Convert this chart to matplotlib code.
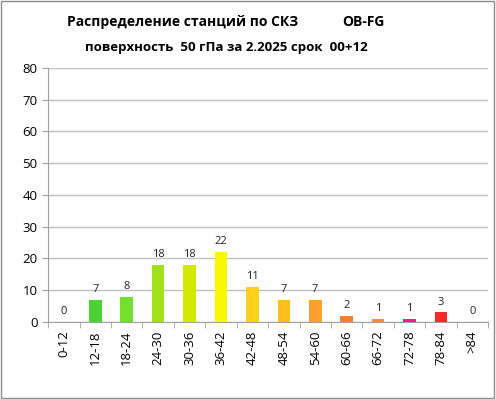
import numpy as np
import matplotlib
matplotlib.use("Agg")
import matplotlib.pyplot as plt
from matplotlib.patches import Rectangle

categories = ["0-12", "12-18", "18-24", "24-30", "30-36", "36-42", "42-48",
              "48-54", "54-60", "60-66", "66-72", "72-78", "78-84", ">84"]
counts = [0, 7, 8, 18, 18, 22, 11, 7, 7, 2, 1, 1, 3, 0]
colors = ["#4CD137", "#4CD137", "#72E02C", "#A3E01C", "#D3E800", "#F8F800",
          "#FFD01C", "#FFBE1C", "#FFA02C", "#FF7F30", "#FF8A40", "#FF1A8C",
          "#F42A2A", "#FF2A2A"]

plt.rcParams['font.family'] = ['Open Sans', 'DejaVu Sans']

fig = plt.figure(figsize=(4.96, 3.99), dpi=100)
ax = fig.add_axes([0.097, 0.193, 0.887, 0.637])

x = np.arange(len(categories))
bars = ax.bar(x, counts, width=0.4, color=colors, zorder=3)
for xi, v in zip(x, counts):
    ax.text(xi, v + 1.5, str(v), ha='center', va='bottom', fontsize=8, color='#222222')

ax.set_xlim(-0.5, len(categories) - 0.5)
ax.set_ylim(0, 80)
ax.set_yticks(np.arange(0, 81, 10))
ax.set_xticks(x)
ax.set_xticklabels(categories, rotation=90, fontsize=9.5)
ax.set_xticks(np.arange(-0.5, len(categories), 1), minor=True)
ax.tick_params(axis='x', which='major', length=0, pad=6)
ax.tick_params(axis='x', which='minor', length=4, color='#A0A0A0')
ax.tick_params(axis='y', labelsize=9.5, length=4, color='#A0A0A0')
ax.yaxis.grid(True, color='#C0C0C0', lw=1, zorder=0)
for s in ['top', 'right']:
    ax.spines[s].set_visible(False)
for s in ['left', 'bottom']:
    ax.spines[s].set_color('#A0A0A0')

fig.text(0.135, 0.935, "Распределение станций по СКЗ", fontsize=10, fontweight='bold')
fig.text(0.69, 0.935, "OB-FG", fontsize=10, fontweight='bold')
fig.text(0.457, 0.873, "поверхность  50 гПа за 2.2025 срок  00+12", fontsize=9.5,
         fontweight='bold', ha='center')

fig.patches.append(Rectangle((0.002, 0.003), 0.994, 0.994, transform=fig.transFigure,
                             fill=False, edgecolor='#8C8C8C', lw=1))

fig.savefig("out.png", dpi=100)
